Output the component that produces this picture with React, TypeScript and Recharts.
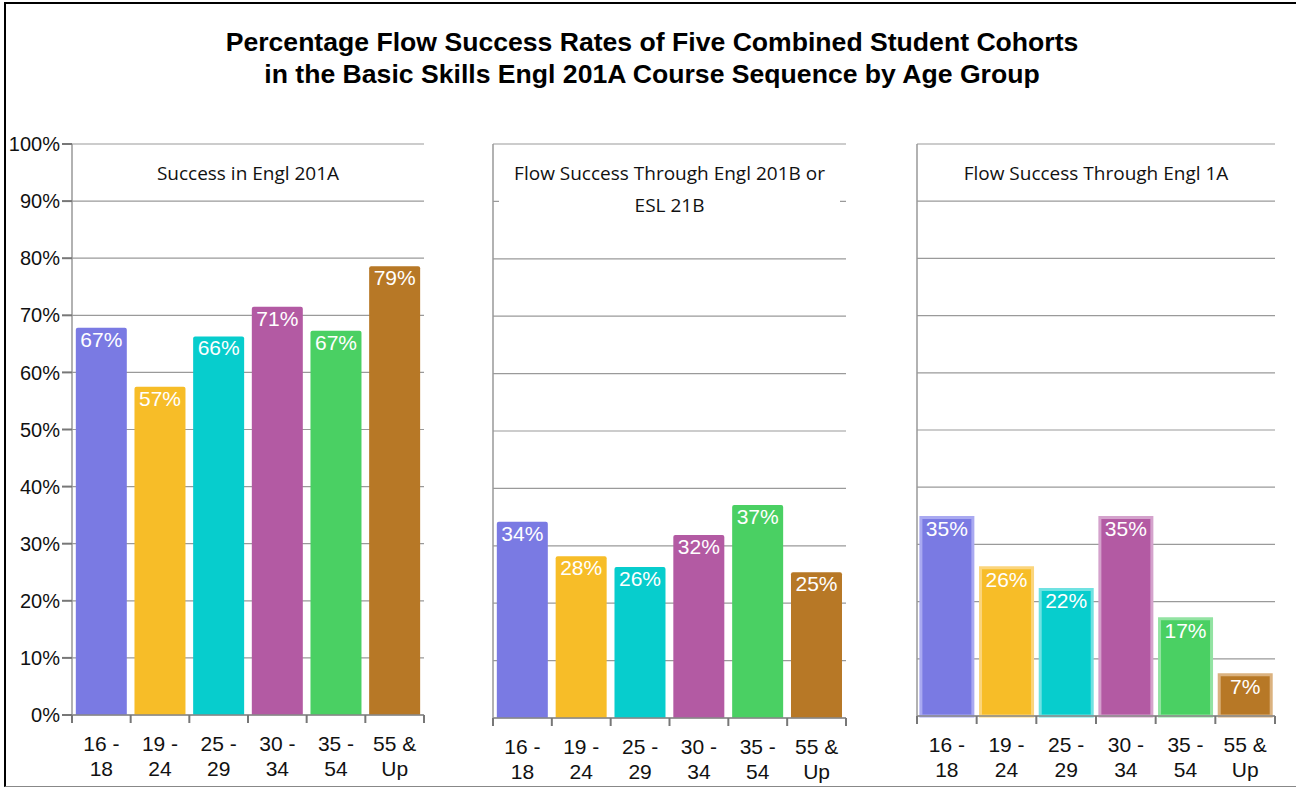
import React from 'react';
import { BarChart, Bar, XAxis, YAxis, CartesianGrid, Cell, LabelList } from 'recharts';

const categories = ['16 - 18', '19 - 24', '25 - 29', '30 - 34', '35 - 54', '55 & Up'];
const colors = ['#7a7ae3', '#f7bd28', '#07cdcd', '#b35aa3', '#4ad063', '#b77826'];
const lightColors = ['#a9a9f1', '#fbd57c', '#70e2e2', '#d4a2cc', '#92e3a2', '#dbb27f'];

const engl201A = [67.8, 57.5, 66.3, 71.5, 67.3, 78.6];
const engl201ALabels = ['67%', '57%', '66%', '71%', '67%', '79%'];
const engl201B = [34.2, 28.2, 26.3, 31.9, 37.1, 25.4];
const engl201BLabels = ['34%', '28%', '26%', '32%', '37%', '25%'];
const engl1A = [34.7, 25.9, 22.1, 34.7, 17.0, 7.2];
const engl1ALabels = ['35%', '26%', '22%', '35%', '17%', '7%'];

const yTicks = [0, 10, 20, 30, 40, 50, 60, 70, 80, 90, 100];

const buildRows = (vals: number[], labels: string[]) =>
  categories.map((c, i) => ({ cat: c, value: vals[i], label: labels[i] }));

const ARIAL = '"Liberation Sans", Arial, sans-serif';
const HEAD = '"Open Sans", "Noto Sans", sans-serif';

const EmptyTick = () => <g />;

const XTick = (props: any) => {
  const { x, y, payload, index, band } = props;
  const words = String(payload.value).split(' ');
  const line1 = words.slice(0, 2).join(' ');
  const line2 = words.slice(2).join(' ');
  const left = x - band / 2;
  const right = x + band / 2;
  return (
    <g>
      <line x1={left} x2={left} y1={y} y2={y + 8} stroke="#777" strokeWidth={2} />
      {index === categories.length - 1 && (
        <line x1={right} x2={right} y1={y} y2={y + 8} stroke="#777" strokeWidth={2} />
      )}
      <text x={x} y={y + 36} textAnchor="middle" fontFamily={ARIAL} fontSize={21} fill="#111">
        {line1}
      </text>
      <text x={x} y={y + 61} textAnchor="middle" fontFamily={ARIAL} fontSize={21} fill="#111">
        {line2}
      </text>
    </g>
  );
};

type PanelProps = {
  left: number;
  width: number;
  plotLeft: number;
  plotRight: number;
  baseline: number;
  vals: number[];
  labels: string[];
  showY: boolean;
  outlined: boolean;
};

const Panel = ({ left, width, plotLeft, plotRight, baseline, vals, labels, showY, outlined }: PanelProps) => {
  const height = 787;
  const rows = buildRows(vals, labels);
  const band = (plotRight - plotLeft) / categories.length;
  return (
    <div style={{ position: 'absolute', left, top: 0 }}>
      <BarChart
        width={width}
        height={height}
        data={rows}
        margin={{ top: 144, left: 0, right: width - (plotRight - left), bottom: 0 }}
        barCategoryGap="6.5%"
      >
        <CartesianGrid yAxisId="l" vertical={false} stroke="#9a9a9a" strokeWidth={1.2} />
        <XAxis
          dataKey="cat"
          height={height - baseline}
          axisLine={{ stroke: '#888', strokeWidth: 1.5 }}
          tickLine={false}
          tickSize={0}
          tickMargin={0}
          interval={0}
          tick={<XTick band={band} />}
        />
        <YAxis
          yAxisId="l"
          width={plotLeft - left}
          domain={[0, 100]}
          ticks={yTicks}
          interval={0}
          tickFormatter={(v: number) => `${v}%`}
          tick={showY ? { fontFamily: ARIAL, fontSize: 20, fill: '#111' } : <EmptyTick />}
          tickLine={showY ? { stroke: '#777', strokeWidth: 2 } : false}
          tickSize={10}
          tickMargin={2}
          axisLine={{ stroke: '#999', strokeWidth: 1.5 }}
        />
        <YAxis
          yAxisId="r"
          orientation="right"
          width={0}
          domain={[0, 100]}
          ticks={yTicks}
          tick={<EmptyTick />}
          tickLine={false}
          axisLine={{ stroke: '#999', strokeWidth: 1.5 }}
        />
        <Bar
          yAxisId="l"
          dataKey="value"
          isAnimationActive={false}
          radius={outlined ? 0 : [2, 2, 0, 0]}
        >
          {rows.map((r, i) => (
            <Cell
              key={r.cat}
              fill={colors[i]}
              stroke={outlined ? lightColors[i] : 'none'}
              strokeWidth={outlined ? 3 : 0}
            />
          ))}
          <LabelList
            dataKey="label"
            position="insideTop"
            offset={4}
            fill="#ffffff"
            fontFamily={ARIAL}
            fontSize={21}
          />
        </Bar>
      </BarChart>
    </div>
  );
};

export default function App() {
  return (
    <div
      style={{
        position: 'absolute',
        left: 0,
        top: 0,
        width: 1296,
        height: 787,
        background: '#fff',
        overflow: 'hidden',
      }}
    >
      <div
        style={{
          position: 'absolute',
          left: 4,
          top: 2,
          width: 1400,
          height: 782,
          borderTop: '2px solid #000',
          borderLeft: '2px solid #000',
          borderBottom: '1px solid #888',
        }}
      />
      <div
        style={{
          position: 'absolute',
          left: 4,
          top: 26,
          width: 1296,
          textAlign: 'center',
          fontFamily: ARIAL,
          fontWeight: 'bold',
          fontSize: 26.6,
          lineHeight: '32px',
          color: '#000',
        }}
      >
        Percentage Flow Success Rates of Five Combined Student Cohorts
        <br />
        in the Basic Skills Engl 201A Course Sequence by Age Group
      </div>
      <Panel left={0} width={440} plotLeft={72} plotRight={424} baseline={715} vals={engl201A} labels={engl201ALabels} showY={true} outlined={false} />
      <Panel left={460} width={400} plotLeft={493} plotRight={846} baseline={718} vals={engl201B} labels={engl201BLabels} showY={false} outlined={false} />
      <Panel left={890} width={400} plotLeft={917} plotRight={1275} baseline={716} vals={engl1A} labels={engl1ALabels} showY={false} outlined={true} />
      <div
        style={{
          position: 'absolute',
          left: 72,
          top: 158,
          width: 352,
          textAlign: 'center',
          fontFamily: HEAD,
          fontSize: 19,
          lineHeight: '30px',
          color: '#111',
        }}
      >
        Success in Engl 201A
      </div>
      <div
        style={{
          position: 'absolute',
          left: 499,
          top: 146,
          width: 341,
          height: 100,
          background: '#fff',
          paddingTop: 11,
          boxSizing: 'border-box',
          textAlign: 'center',
          fontFamily: HEAD,
          fontSize: 19,
          lineHeight: '32px',
          color: '#111',
        }}
      >
        Flow Success Through Engl 201B or
        <br />
        ESL 21B
      </div>
      <div
        style={{
          position: 'absolute',
          left: 917,
          top: 158,
          width: 358,
          textAlign: 'center',
          fontFamily: HEAD,
          fontSize: 19,
          lineHeight: '30px',
          color: '#111',
        }}
      >
        Flow Success Through Engl 1A
      </div>
    </div>
  );
}
